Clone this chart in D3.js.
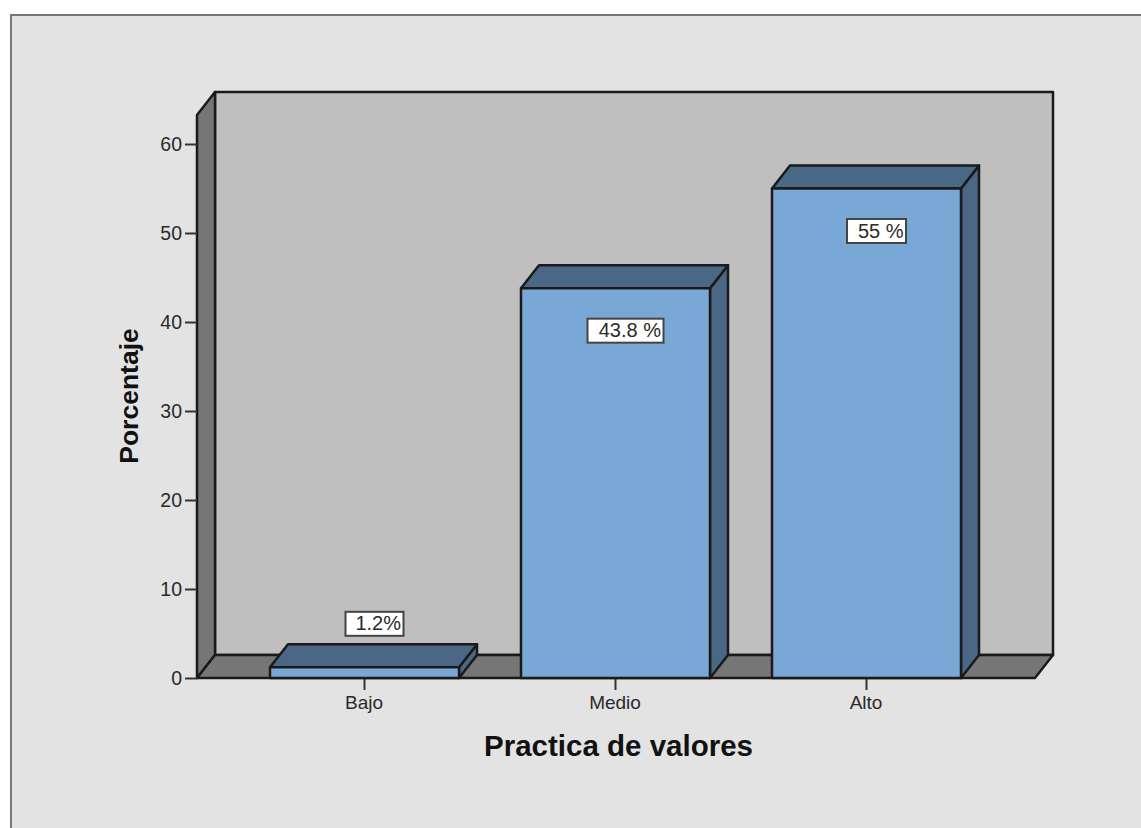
<!DOCTYPE html>
<html>
<head>
<meta charset="utf-8">
<script src="https://cdn.jsdelivr.net/npm/d3@7"></script>
<style>
  html, body { margin: 0; padding: 0; background: #fff; overflow: hidden; }
  svg { display: block; }
  text { font-family: "Liberation Sans", Arial, sans-serif; fill: #2a2a2a; }
  .axis path { display: none; }
  .axis line { stroke: #333; stroke-width: 2; }
  .edge { stroke: #1a1a1a; stroke-width: 2.5; stroke-linejoin: round; }
</style>
</head>
<body>
<div id="chart"></div>
<script>
// Values
var categories = ["Bajo", "Medio", "Alto"];
var percentages = [1.2, 43.8, 55];
var valueLabels = ["1.2%", "43.8 %", "55 %"];
var yTicks = [0, 10, 20, 30, 40, 50, 60];

var width = 1141, height = 828;
var depthX = 18, depthY = 23; // 3D offset of the back wall

var plot = { left: 197, right: 1035, top: 115, bottom: 678 };

var svg = d3.select("#chart").append("svg")
    .attr("width", width)
    .attr("height", height);

// Outer frame, open on the right and bottom where the picture is cut off
svg.append("rect")
    .attr("x", 11).attr("y", 15)
    .attr("width", width + 20).attr("height", height + 20)
    .attr("fill", "#e3e3e3")
    .attr("stroke", "#777")
    .attr("stroke-width", 2);

var yScale = d3.scaleLinear()
    .domain([0, (plot.bottom - plot.top) / 8.9])
    .range([plot.bottom, plot.top]);

var xScale = d3.scaleBand()
    .domain(categories)
    .range([239, 992])
    .paddingInner(0.247)
    .paddingOuter(0.1235);

function poly(points) {
    return points.map(function (p) { return p.join(","); }).join(" ");
}

var l = plot.left, r = plot.right, t = plot.top, b = plot.bottom;

// Back wall
svg.append("polygon").attr("class", "edge").attr("fill", "#bfbfbf")
    .attr("points", poly([[l + depthX, t - depthY], [r + depthX, t - depthY], [r + depthX, b - depthY], [l + depthX, b - depthY]]));
// Left wall
svg.append("polygon").attr("class", "edge").attr("fill", "#767676")
    .attr("points", poly([[l, t], [l + depthX, t - depthY], [l + depthX, b - depthY], [l, b]]));
// Floor
svg.append("polygon").attr("class", "edge").attr("fill", "#767676")
    .attr("points", poly([[l, b], [l + depthX, b - depthY], [r + depthX, b - depthY], [r, b]]));

// Axes
var yAxis = svg.append("g")
    .attr("class", "axis")
    .attr("transform", "translate(" + l + ",0)")
    .call(d3.axisLeft(yScale).tickValues(yTicks).tickSize(12).tickPadding(3));
yAxis.selectAll("text").style("font-size", "19.5px").attr("dy", "0.34em");

var xAxis = svg.append("g")
    .attr("class", "axis")
    .attr("transform", "translate(0," + b + ")")
    .call(d3.axisBottom(xScale).tickSize(12).tickPadding(6));
xAxis.selectAll("text").style("font-size", "19px").attr("dx", -0.5);

// Bars: side and top faces first, then the front
var bars = svg.selectAll(".bar")
    .data(categories)
    .enter()
    .append("g")
    .attr("class", "bar");

bars.append("polygon").attr("class", "edge").attr("fill", "#4a6885")
    .attr("points", function (d, i) {
        var x1 = xScale(d) + xScale.bandwidth(), y0 = yScale(percentages[i]);
        return poly([[x1, y0], [x1 + depthX, y0 - depthY], [x1 + depthX, b - depthY], [x1, b]]);
    });

bars.append("polygon").attr("class", "edge").attr("fill", "#4a6885")
    .attr("points", function (d, i) {
        var x0 = xScale(d), x1 = x0 + xScale.bandwidth(), y0 = yScale(percentages[i]);
        return poly([[x0, y0], [x0 + depthX, y0 - depthY], [x1 + depthX, y0 - depthY], [x1, y0]]);
    });

bars.append("rect").attr("class", "edge").attr("fill", "#7aa8d6")
    .attr("x", function (d) { return xScale(d); })
    .attr("y", function (d, i) { return yScale(percentages[i]); })
    .attr("width", xScale.bandwidth())
    .attr("height", function (d, i) { return b - yScale(percentages[i]); });

// Value labels: inside the tall bars, above the short one
var labelWidths = [58, 76, 59];
function labelY(i) {
    var v = percentages[i];
    return v < 5 ? yScale(v) - 43.5 : yScale(v) + 42.5;
}
function labelX(d) { return xScale(d) + xScale.bandwidth() / 2 + 10; }

bars.append("rect")
    .attr("x", function (d, i) { return labelX(d) - labelWidths[i] / 2; })
    .attr("y", function (d, i) { return labelY(i) - 12; })
    .attr("width", function (d, i) { return labelWidths[i]; })
    .attr("height", 24)
    .attr("fill", "#fff")
    .attr("stroke", "#444")
    .attr("stroke-width", 2);

bars.append("text")
    .attr("x", function (d, i) { return labelX(d) + labelWidths[i] / 2 - 2.5; })
    .attr("y", function (d, i) { return labelY(i) + 6.5; })
    .attr("text-anchor", "end")
    .style("font-size", "20px")
    .text(function (d, i) { return valueLabels[i]; });

// Axis titles
svg.append("text")
    .attr("x", 618.5)
    .attr("y", 756)
    .attr("text-anchor", "middle")
    .style("font-size", "29.5px")
    .style("font-weight", "bold")
    .style("fill", "#111")
    .text("Practica de valores");

svg.append("text")
    .attr("transform", "translate(138,396) rotate(-90)")
    .attr("text-anchor", "middle")
    .style("font-size", "26.5px")
    .style("font-weight", "bold")
    .style("fill", "#111")
    .text("Porcentaje");
</script>
</body>
</html>
